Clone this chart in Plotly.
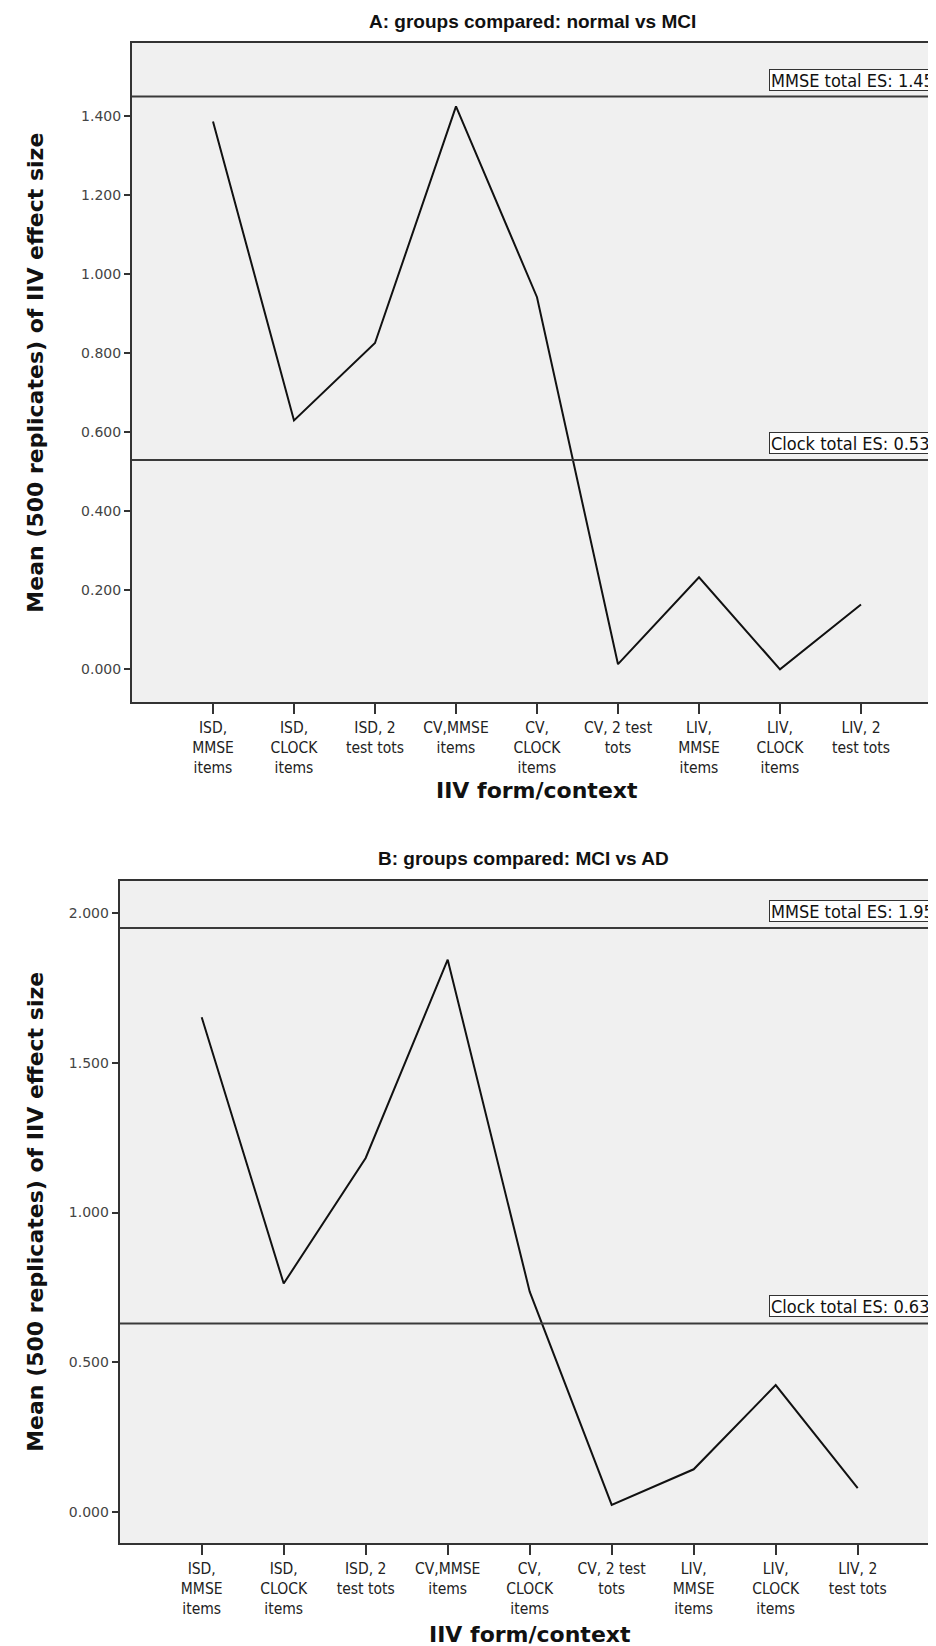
import plotly.graph_objects as go

# ---------------- data ----------------
categories = ["ISD, MMSE items", "ISD, CLOCK items", "ISD, 2 test tots",
              "CV,MMSE items", "CV, CLOCK items", "CV, 2 test tots",
              "LIV, MMSE items", "LIV, CLOCK items", "LIV, 2 test tots"]
tick_labels = ["ISD,<br>MMSE<br>items", "ISD,<br>CLOCK<br>items", "ISD, 2<br>test tots",
               "CV,MMSE<br>items", "CV,<br>CLOCK<br>items", "CV, 2 test<br>tots",
               "LIV,<br>MMSE<br>items", "LIV,<br>CLOCK<br>items", "LIV, 2<br>test tots"]

es_normal_vs_mci = [1.387, 0.630, 0.826, 1.425, 0.942, 0.013, 0.233, 0.000, 0.164]
es_mci_vs_ad = [1.652, 0.763, 1.182, 1.844, 0.736, 0.024, 0.143, 0.424, 0.080]

ref_names = ["MMSE total ES", "Clock total ES"]
ref_normal_vs_mci = [1.45, 0.53]
ref_mci_vs_ad = [1.95, 0.63]

panel_titles = ["A: groups compared: normal vs MCI", "B: groups compared: MCI vs AD"]
x_title = "IIV form/context"
y_title = "Mean (500 replicates) of IIV effect size"

# ---------------- layout geometry (pixels) ----------------
W, H = 936, 1646
panels = [
    dict(l=124, r=934, t=35, b=694.3, yr=[-0.0835, 1.5856], dtick=0.2,
         title_y=13, title_x=524, xt_y=782),
    dict(l=111.7, r=931.7, t=872.7, b=1535, yr=[-0.103, 2.1075], dtick=0.5,
         title_y=850, title_x=515, xt_y=1626),
]

FRAME = "#333333"
NARROW = "Liberation Sans Narrow, Arial Narrow, DejaVu Sans Condensed, sans-serif"
BOLD = "DejaVu Sans, Verdana, sans-serif"

fig = go.Figure()
series = [es_normal_vs_mci, es_mci_vs_ad]
refs = [ref_normal_vs_mci, ref_mci_vs_ad]

layout = dict(
    width=W, height=H,
    margin=dict(l=0, r=0, t=0, b=0),
    paper_bgcolor="white", plot_bgcolor="#F0F0F0",
    showlegend=False,
    shapes=[], annotations=[],
)

for i, (p, ys, rv) in enumerate(zip(panels, series, refs)):
    sfx = "" if i == 0 else str(i + 1)
    xa, ya = "x" + sfx, "y" + sfx
    fig.add_trace(go.Scatter(x=tick_labels, y=ys, mode="lines",
                             line=dict(color="#111111", width=2),
                             xaxis=xa, yaxis=ya, hoverinfo="skip"))
    layout["xaxis" + sfx] = dict(
        domain=[p["l"] / W, p["r"] / W], anchor=ya, type="category",
        categoryorder="array", categoryarray=tick_labels,
        range=[-1, 9], showgrid=False, zeroline=False,
        showline=True, mirror=True, linecolor=FRAME, linewidth=2,
        ticks="outside", ticklen=10, tickwidth=2, tickcolor=FRAME,
        tickfont=dict(family=NARROW, size=15.5, color="#222222"),
    )
    layout["yaxis" + sfx] = dict(
        domain=[1 - p["b"] / H, 1 - p["t"] / H], anchor=xa,
        range=p["yr"], tick0=0, dtick=p["dtick"], tickformat=".3f",
        showgrid=False, zeroline=False,
        showline=True, mirror=True, linecolor=FRAME, linewidth=2,
        ticks="outside", ticklen=6, tickwidth=2, tickcolor=FRAME,
        tickfont=dict(family="DejaVu Sans, sans-serif", size=14, color="#444444"),
    )
    # reference lines + labels
    for name, v in zip(ref_names, rv):
        layout["shapes"].append(dict(
            type="line", xref=xa + " domain", x0=0, x1=1, yref=ya, y0=v, y1=v,
            line=dict(color="#3a3a3a", width=2), layer="above"))
        box_left = 761
        box_right = p["r"]
        layout["annotations"].append(dict(
            text=f"{name}: {v:.2f}", xref="paper", x=box_left / W, xanchor="left",
            yref=ya, y=v, yanchor="bottom", yshift=6,
            showarrow=False, align="left", width=box_right - box_left - 4, height=18,
            bgcolor="white", bordercolor="#333333", borderwidth=1, borderpad=1,
            font=dict(family=NARROW, size=18, color="#111111")))
    # panel title
    layout["annotations"].append(dict(
        text=f"<b>{panel_titles[i]}</b>", xref="paper", yref="paper",
        x=p["title_x"] / W, y=1 - p["title_y"] / H, xanchor="center", yanchor="middle",
        showarrow=False, font=dict(family="Liberation Sans, Arial, sans-serif", size=19, color="#111111")))
    # x-axis title
    layout["annotations"].append(dict(
        text=f"<b>{x_title}</b>", xref="paper", yref="paper",
        x=(p["l"] + p["r"]) / 2 / W, y=1 - p["xt_y"] / H, xanchor="center", yanchor="middle",
        showarrow=False, font=dict(family=BOLD, size=22, color="#111111")))
    # y-axis title
    layout["annotations"].append(dict(
        text=f"<b>{y_title}</b>", xref="paper", yref="paper", textangle=-90,
        x=28 / W, y=1 - (p["t"] + p["b"]) / 2 / H, xanchor="center", yanchor="middle",
        showarrow=False, font=dict(family=BOLD, size=22, color="#111111")))

fig.update_layout(**layout)
fig.write_html("out.html")
